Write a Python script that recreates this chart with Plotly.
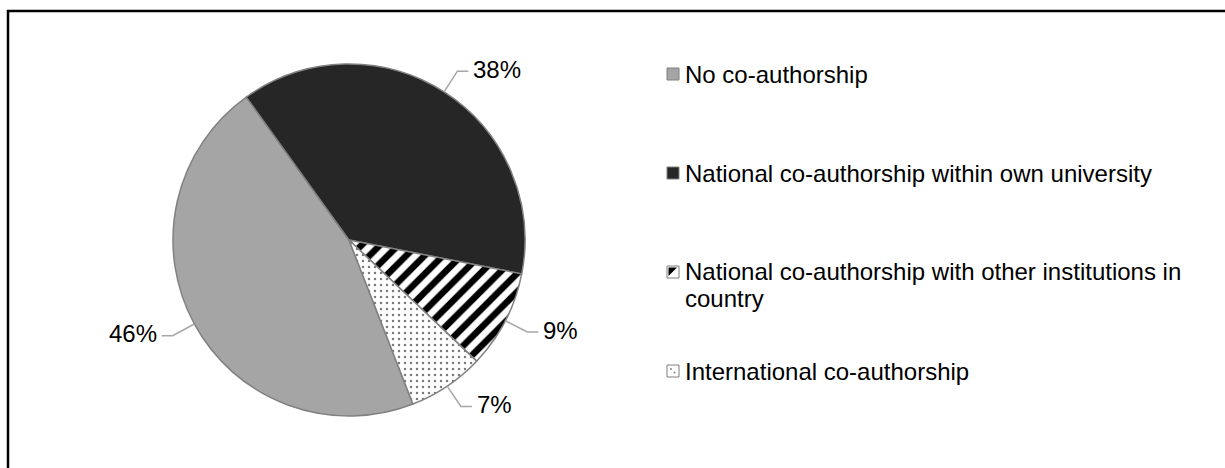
import math
import plotly.graph_objects as go

# ---- data -------------------------------------------------------------
categories = [
    "No co-authorship",
    "National co-authorship within own university",
    "National co-authorship with other institutions in country",
    "International co-authorship",
]
shares = [46, 38, 9, 7]
legend_lines = [
    ["No co-authorship"],
    ["National co-authorship within own university"],
    ["National co-authorship with other institutions in", "country"],
    ["International co-authorship"],
]

# ---- layout constants -------------------------------------------------
W, H = 1225, 468
CX, CY, R = 349, 240, 176          # pie centre and radius (px)
START = 158.7                      # first slice begins here, clockwise from 12 o'clock
FONT = "Liberation Sans, Arial, sans-serif"
FS = 24

fills = ["#a5a5a5", "#262626", "#ffffff", "#ffffff"]
pat_shape = ["", "", "/", "."]
pat_fg = ["#a5a5a5", "#262626", "#000000", "#7a7a7a"]
pat_bg = ["#a5a5a5", "#262626", "#ffffff", "#ffffff"]
pat_size = [8, 8, 13, 6]
pat_solid = [0.3, 0.3, 0.5, 0.14]


def px(x):
    return x / W


def py(y):
    return 1 - y / H


fig = go.Figure()
fig.add_trace(go.Pie(
    labels=categories,
    values=shares,
    sort=False,
    direction="clockwise",
    rotation=START,
    textinfo="none",
    showlegend=False,
    hoverinfo="label+percent",
    marker=dict(
        colors=fills,
        line=dict(color="#808080", width=1.5),
        pattern=dict(shape=pat_shape, fgcolor=pat_fg, bgcolor=pat_bg,
                     size=pat_size, solidity=pat_solid, fillmode="replace"),
    ),
    domain=dict(x=[px(CX - R), px(CX + R)], y=[py(CY + R), py(CY - R)]),
))

shapes = []
annotations = []

# ---- percentage labels with leader lines --------------------------------
total = sum(shares)
angle = START
for v in shares:
    span = 360 * v / total
    mid = math.radians(angle + span / 2)
    angle += span
    s, c = math.sin(mid), -math.cos(mid)
    ex, ey = CX + R * s, CY + R * c
    kx, ky = CX + 1.14 * R * s, CY + 1.14 * R * c
    side = 1 if s >= 0 else -1
    hx = kx + side * 11
    shapes.append(dict(
        type="path", xref="paper", yref="paper",
        path=f"M {px(ex)},{py(ey)} L {px(kx)},{py(ky)} L {px(hx)},{py(ky)}",
        line=dict(color="#a6a6a6", width=1.5),
    ))
    annotations.append(dict(
        x=px(hx + side * 3), y=py(ky - 2), xref="paper", yref="paper",
        text=f"{round(100 * v / total)}%", showarrow=False,
        xanchor="left" if side > 0 else "right", yanchor="middle",
        font=dict(family=FONT, size=FS, color="#000000"),
    ))

# ---- legend (square swatches + text) ------------------------------------
LX, LY0, LSTEP, SQ, LINE_H = 667, 74, 99, 12, 27
for i, lines in enumerate(legend_lines):
    yc = LY0 + i * LSTEP
    x0, x1, y0, y1 = LX, LX + SQ, yc - SQ / 2, yc + SQ / 2
    shapes.append(dict(type="rect", xref="paper", yref="paper",
                       x0=px(x0), x1=px(x1), y0=py(y0), y1=py(y1),
                       fillcolor=fills[i], line=dict(color="#7f7f7f", width=1)))
    if pat_shape[i] == "/":
        shapes.append(dict(
            type="path", xref="paper", yref="paper",
            path=(f"M {px(x0 + 1.5)},{py(y0 + 1.5)} L {px(x1 - 2)},{py(y0 + 1.5)} "
                  f"L {px(x0 + 1.5)},{py(y1 - 2)} Z"),
            fillcolor="#000000", line=dict(width=0)))
    elif pat_shape[i] == ".":
        for dx, dy in [(4, 4), (7.5, 7.5)]:
            shapes.append(dict(
                type="circle", xref="paper", yref="paper",
                x0=px(x0 + dx - 0.9), x1=px(x0 + dx + 0.9),
                y0=py(y0 + dy - 0.9), y1=py(y0 + dy + 0.9),
                fillcolor="#7a7a7a", line=dict(width=0)))
    first_y = yc - (1 if len(lines) > 1 else 0)
    for j, txt in enumerate(lines):
        annotations.append(dict(
            x=px(LX + SQ + 5), y=py(first_y + j * LINE_H), xref="paper", yref="paper",
            text=txt, showarrow=False, align="left",
            xanchor="left", yanchor="middle", borderpad=0,
            font=dict(family=FONT, size=FS, color="#000000"),
        ))

# ---- outer frame (top and left edges visible) ---------------------------
shapes.append(dict(type="line", xref="paper", yref="paper",
                   x0=px(7), x1=px(W + 5), y0=py(11), y1=py(11),
                   line=dict(color="#000000", width=2.5)))
shapes.append(dict(type="line", xref="paper", yref="paper",
                   x0=px(8), x1=px(8), y0=py(10), y1=py(H + 5),
                   line=dict(color="#000000", width=2.5)))

fig.update_layout(
    width=W, height=H,
    margin=dict(l=0, r=0, t=0, b=0),
    paper_bgcolor="#ffffff",
    plot_bgcolor="#ffffff",
    showlegend=False,
    shapes=shapes,
    annotations=annotations,
)

fig.write_html("out.html")
